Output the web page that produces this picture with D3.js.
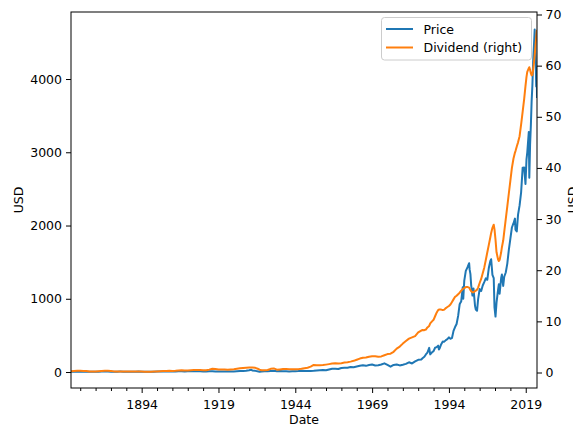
<!DOCTYPE html>
<html>
<head>
<meta charset="utf-8">
<script src="https://cdn.jsdelivr.net/npm/d3@7"></script>
<style>
  html, body { margin: 0; padding: 0; background: #fff; }
  svg { display: block; }
  text { font-family: "DejaVu Sans", sans-serif; }
</style>
</head>
<body>
<svg id="chart" width="573" height="427"></svg>
<script>
// ---------------- data ----------------
const dates = [
  "1871-01","1872-01","1873-01","1874-01","1875-01","1876-01","1877-01","1878-01","1879-01",
  "1880-01","1881-01","1882-01","1883-01","1884-01","1885-01","1886-01","1887-01","1888-01","1889-01",
  "1890-01","1891-01","1892-01","1893-01","1894-01","1895-01","1896-01","1897-01","1898-01","1899-01",
  "1900-01","1901-01","1902-01","1903-01","1904-01","1905-01","1906-01","1907-01","1908-01","1909-01",
  "1910-01","1911-01","1912-01","1913-01","1914-01","1915-01","1916-01","1917-01","1918-01","1919-01",
  "1920-01","1921-01","1922-01","1923-01","1924-01","1925-01","1926-01","1927-01","1928-01","1929-01","1929-09",
  "1930-01","1931-01","1932-01","1932-06","1933-01","1934-01","1935-01","1936-01","1937-01","1938-01","1939-01",
  "1940-01","1941-01","1942-01","1943-01","1944-01","1945-01","1946-01","1947-01","1948-01","1949-01",
  "1950-01","1951-01","1952-01","1953-01","1954-01","1955-01","1956-01","1957-01","1958-01","1959-01",
  "1960-01","1961-01","1962-01","1963-01","1964-01","1965-01","1966-01","1967-01","1968-01","1969-01",
  "1970-01","1971-01","1972-01","1973-01","1974-01","1975-01","1976-01","1977-01","1978-01","1979-01",
  "1980-01","1981-01","1982-01","1983-01","1984-01","1985-01","1985-07",
  "1986-01","1986-07","1987-01","1987-08","1987-12","1988-07","1989-01","1989-07",
  "1990-01","1990-07","1990-10","1991-01","1991-07","1992-01","1992-07","1993-01","1993-07","1994-01","1994-07",
  "1995-01","1995-07","1996-01","1996-07","1997-01","1997-07","1997-10","1998-01","1998-07","1998-09",
  "1999-01","1999-07","2000-01","2000-03","2000-08","2000-10","2001-01","2001-04","2001-09",
  "2002-01","2002-07","2002-10","2003-03","2003-07","2004-01","2004-07","2005-01","2005-07",
  "2006-01","2006-07","2007-01","2007-07","2007-10","2008-03","2008-08","2008-11","2009-03","2009-07",
  "2010-01","2010-04","2010-07","2011-01","2011-04","2011-09","2012-01","2012-07","2013-01","2013-07",
  "2014-01","2014-07","2015-01","2015-07","2015-09","2016-02","2016-07","2017-01","2017-07",
  "2018-01","2018-07","2018-12","2019-04","2019-07","2020-01","2020-03","2020-06","2020-09","2020-12",
  "2021-03","2021-06","2021-09","2021-12","2022-03","2022-06","2022-08","2022-09"
];

const price = [
  4.44,4.86,5.11,4.66,4.54,4.46,3.55,3.25,3.58,
  5.11,6.19,5.92,5.81,5.18,4.24,5.20,5.58,5.31,5.24,
  5.38,4.84,5.51,5.61,4.32,4.25,4.27,4.22,4.88,6.08,
  6.10,7.07,8.12,7.98,6.68,8.43,9.87,9.56,7.31,9.06,
  10.08,9.27,9.12,9.30,8.37,7.48,9.33,9.57,7.21,7.85,
  8.83,7.11,7.30,8.90,8.83,10.58,12.65,13.40,17.53,24.86,31.30,
  21.71,15.98,8.30,4.77,7.09,10.54,9.26,13.76,17.59,11.31,12.50,
  12.30,10.55,8.93,10.09,11.85,13.49,18.02,15.21,14.83,15.36,
  16.88,21.21,24.19,26.18,25.46,35.60,44.15,45.43,41.12,55.62,
  58.03,59.72,69.07,65.06,76.45,86.12,93.32,84.45,95.04,102.0,
  90.31,93.49,103.3,118.4,96.11,72.56,96.86,103.8,90.25,99.71,
  110.9,132.97,117.3,144.3,166.4,171.6,192.5,
  208.2,240.2,264.5,329.4,240.9,269.0,285.4,331.9,
  340.0,360.0,307.1,325.5,380.2,416.1,415.0,435.2,448.1,473.0,454.0,
  465.3,562.1,614.4,654.9,766.2,925.3,947.3,963.4,1156.6,1000.0,
  1248.8,1381.0,1425.6,1441.0,1485.5,1398.0,1335.6,1183.5,1044.6,
  1140.2,903.6,854.6,837.0,992.5,1132.5,1106.0,1181.4,1227.0,
  1278.7,1260.2,1424.2,1518.0,1539.7,1326.0,1281.5,883.0,757.1,951.0,
  1123.6,1197.0,1070.0,1282.6,1331.0,1175.0,1300.6,1359.0,1480.4,1668.0,
  1822.4,1973.0,2028.2,2094.0,1944.0,1918.6,2148.0,2275.1,2454.0,
  2789.8,2793.0,2567.0,2903.0,2996.0,3278.2,2652.0,3104.0,3365.0,3695.0,
  3911.0,4238.0,4450.0,4677.0,4391.0,3899.0,4158.0,3740.0
];

const dividend = [
  0.26,0.30,0.33,0.33,0.31,0.29,0.21,0.18,0.19,
  0.24,0.30,0.32,0.32,0.30,0.22,0.19,0.22,0.22,0.22,
  0.22,0.20,0.21,0.22,0.19,0.17,0.17,0.17,0.18,0.20,
  0.26,0.29,0.31,0.33,0.31,0.33,0.38,0.42,0.39,0.40,
  0.46,0.47,0.47,0.49,0.45,0.43,0.56,0.73,0.67,0.58,
  0.61,0.59,0.53,0.60,0.64,0.72,0.81,0.89,0.93,0.97,0.98,
  0.98,0.91,0.68,0.55,0.44,0.45,0.48,0.72,0.80,0.55,0.61,
  0.67,0.71,0.63,0.62,0.64,0.66,0.72,0.84,0.93,1.14,
  1.47,1.41,1.41,1.45,1.54,1.64,1.74,1.79,1.75,1.83,
  1.95,2.02,2.13,2.28,2.50,2.72,2.87,2.92,3.07,3.16,
  3.16,3.07,3.15,3.38,3.60,3.68,4.05,4.67,5.07,5.65,
  6.16,6.63,6.87,7.12,7.83,8.20,8.30,
  8.28,8.40,8.81,9.10,9.60,10.0,10.3,11.0,
  11.7,12.2,12.3,12.3,12.3,12.2,12.3,12.6,12.8,13.0,13.3,
  13.8,14.3,14.8,15.0,15.3,15.6,15.8,16.0,16.3,16.4,
  16.5,16.7,16.7,16.7,16.6,16.4,16.1,15.9,15.7,
  15.7,15.9,16.0,16.2,16.6,17.5,18.3,19.4,20.5,
  22.0,23.5,25.0,26.5,27.3,28.3,28.9,28.0,26.0,23.5,
  22.1,21.8,22.0,23.5,24.5,25.8,27.5,30.0,32.5,35.0,
  37.5,40.0,41.8,43.0,43.3,44.2,45.0,46.2,48.5,
  51.0,53.5,56.0,57.8,58.8,59.5,59.7,59.2,58.5,58.1,
  58.2,59.2,60.5,62.0,63.8,65.5,66.6,67.0
];

const xTickYears = [1894, 1919, 1944, 1969, 1994, 2019];
const xMinorYears = [1874,1879,1884,1889,1899,1904,1909,1914,1924,1929,1934,1939,1949,1954,1959,1964,1974,1979,1984,1989,1999,2004,2009,2014];
const leftTicks = [0, 1000, 2000, 3000, 4000];
const rightTicks = [0, 10, 20, 30, 40, 50, 60, 70];
const seriesNames = ["Price", "Dividend (right)"];
const seriesColors = ["#1f77b4", "#ff7f0e"];

// ---------------- chart ----------------
const parse = d3.timeParse("%Y-%m");
const dts = dates.map(parse);
const rows = dts.map((d, i) => ({ date: d, price: price[i], dividend: dividend[i] }));

const L = 71, R = 537, T = 12, B = 388;
const FS = 12.5;
const svg = d3.select("#chart");

const x = d3.scaleTime().domain([dts[0], dts[dts.length - 1]]).range([L, R]);
const yL = d3.scaleLinear().domain([-218, 4915]).range([B, T]);
const yR = d3.scaleLinear().domain([-3.03, 70.49]).range([B, T]);

svg.append("defs").append("clipPath").attr("id", "clip")
  .append("rect").attr("x", L).attr("y", T).attr("width", R - L).attr("height", B - T);

const plot = svg.append("g").attr("clip-path", "url(#clip)");
plot.append("path").datum(rows)
  .attr("fill", "none").attr("stroke", seriesColors[0]).attr("stroke-width", 2)
  .attr("stroke-linejoin", "round")
  .attr("d", d3.line().x(d => x(d.date)).y(d => yL(d.price)));
plot.append("path").datum(rows)
  .attr("fill", "none").attr("stroke", seriesColors[1]).attr("stroke-width", 2)
  .attr("stroke-linejoin", "round")
  .attr("d", d3.line().x(d => x(d.date)).y(d => yR(d.dividend)));

function styleAxis(g) {
  g.select(".domain").remove();
  g.selectAll(".tick line").attr("stroke", "#000").attr("stroke-width", 1);
  g.selectAll(".tick text").attr("fill", "#000").attr("font-size", FS)
    .attr("font-family", "DejaVu Sans, sans-serif");
}

// x axis major
svg.append("g").attr("transform", `translate(0,${B})`)
  .call(d3.axisBottom(x).tickValues(xTickYears.map(y => new Date(y, 0, 1)))
    .tickFormat(d3.timeFormat("%Y")).tickSize(5).tickPadding(7))
  .call(styleAxis);
// x axis minor
svg.append("g").attr("transform", `translate(0,${B})`)
  .call(d3.axisBottom(x).tickValues(xMinorYears.map(y => new Date(y, 0, 1)))
    .tickFormat("").tickSize(3))
  .call(styleAxis);

// left axis
svg.append("g").attr("transform", `translate(${L},0)`)
  .call(d3.axisLeft(yL).tickValues(leftTicks).tickFormat(d3.format("d")).tickSize(5).tickPadding(4))
  .call(styleAxis);
// right axis
svg.append("g").attr("transform", `translate(${R},0)`)
  .call(d3.axisRight(yR).tickValues(rightTicks).tickFormat(d3.format("d")).tickSize(5).tickPadding(3.5))
  .call(styleAxis);

// frame
svg.append("rect").attr("x", L).attr("y", T).attr("width", R - L).attr("height", B - T)
  .attr("fill", "none").attr("stroke", "#000").attr("stroke-width", 1);

// axis labels
svg.append("text").attr("x", (L + R) / 2).attr("y", 424).attr("text-anchor", "middle")
  .attr("font-size", FS).text("Date");
svg.append("text").attr("transform", `translate(23,${(T + B) / 2}) rotate(-90)`)
  .attr("text-anchor", "middle").attr("font-size", FS).text("USD");
svg.append("text").attr("transform", `translate(577,${(T + B) / 2}) rotate(-90)`)
  .attr("text-anchor", "middle").attr("font-size", FS).text("USD");

// legend
const lg = svg.append("g");
lg.append("rect").attr("x", 381.5).attr("y", 17.5).attr("width", 150).attr("height", 42.5)
  .attr("rx", 3).attr("fill", "#fff").attr("fill-opacity", 0.8)
  .attr("stroke", "#cccccc").attr("stroke-width", 1);
seriesNames.forEach((name, i) => {
  const yy = 29 + i * 18.5;
  lg.append("line").attr("x1", 386).attr("x2", 413).attr("y1", yy).attr("y2", yy)
    .attr("stroke", seriesColors[i]).attr("stroke-width", 2);
  lg.append("text").attr("x", 423.5).attr("y", yy + 4.6).attr("font-size", FS)
    .attr("fill", "#000").text(name);
});
</script>
</body>
</html>
